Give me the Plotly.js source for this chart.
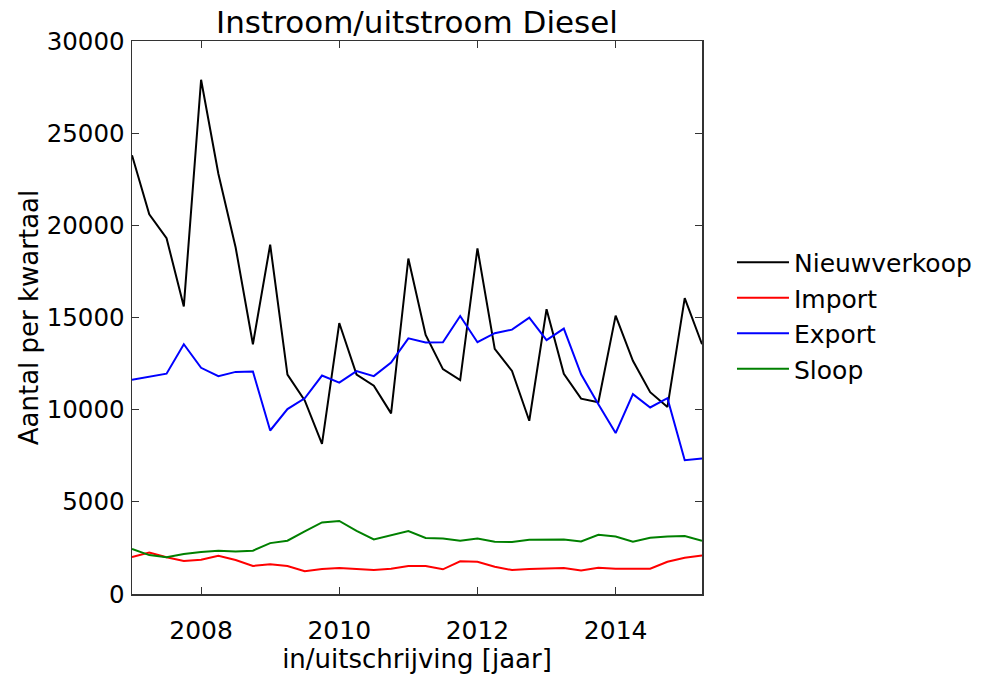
<!DOCTYPE html>
<html>
<head>
<meta charset="utf-8">
<script src="https://cdn.plot.ly/plotly-3.0.1.min.js"></script>
<style>html,body{margin:0;padding:0;background:#fff;}#chart{width:984px;height:675px;}</style>
</head>
<body>
<div id="chart"></div>
<script>
// Quarterly time axis (year fractions)
const quarters = [];
for (let i = 0; i < 34; i++) quarters.push(2007 + i * 0.25);

const nieuwverkoop = [23800, 20600, 19300, 15600, 27900, 22800, 18800, 13550, 18950, 11900,
  10500, 8150, 14700, 11900, 11300, 9800, 18200, 14050, 12200, 11600,
  18750, 13300, 12100, 9400, 15450, 11950, 10600, 10400, 15100, 12650,
  10950, 10150, 16050, 13550];
const importVals = [2000, 2250, 1990, 1790, 1860, 2080, 1840, 1520, 1620, 1520,
  1230, 1360, 1410, 1360, 1300, 1370, 1520, 1520, 1340, 1770,
  1750, 1480, 1300, 1360, 1390, 1410, 1280, 1420, 1370, 1370,
  1370, 1750, 1970, 2090];
const exportVals = [11620, 11800, 11950, 13550, 12270, 11820, 12050, 12070, 8870, 10030,
  10620, 11850, 11470, 12090, 11820, 12560, 13870, 13640, 13660, 15080,
  13660, 14150, 14340, 14990, 13770, 14400, 11920, 10300, 8730, 10840,
  10120, 10620, 7260, 7350];
const sloop = [2440, 2110, 1990, 2170, 2280, 2350, 2310, 2350, 2760, 2890,
  3400, 3880, 3960, 3430, 2960, 3200, 3410, 3040, 3010, 2890,
  3010, 2840, 2820, 2940, 2930, 2960, 2850, 3210, 3120, 2840,
  3050, 3120, 3140, 2890];

const seriesNames = ['Nieuwverkoop', 'Import', 'Export', 'Sloop'];
const seriesColors = ['#000000', '#ff0000', '#0000ff', '#008000'];
const seriesData = [nieuwverkoop, importVals, exportVals, sloop];

const xTicks = [2008, 2010, 2012, 2014];
const xTickText = ['2008', '2010', '2012', '2014'];
const yTicks = [0, 5000, 10000, 15000, 20000, 25000, 30000];
const yTickText = ['0', '5000', '10000', '15000', '20000', '25000', '30000'];

const font = 'DejaVu Sans, sans-serif';

const traces = seriesData.map((d, k) => ({
  x: quarters, y: d, type: 'scatter', mode: 'lines',
  name: seriesNames[k], legendgroup: 'g' + k,
  line: {color: seriesColors[k], width: 2}
}));

const layout = {
  width: 984, height: 675,
  margin: {l: 132, r: 282, t: 41, b: 81, pad: 0, autoexpand: false},
  paper_bgcolor: '#ffffff', plot_bgcolor: '#ffffff',
  font: {family: font, size: 25, color: '#000'},
  title: {text: 'Instroom/uitstroom Diesel', font: {family: font, size: 31, color: '#000'},
          x: 0.5, xref: 'paper', xanchor: 'center', y: 1 - 22/675, yref: 'container', yanchor: 'middle'},
  xaxis: {
    range: [2007, 2015.25], tickvals: xTicks, ticktext: xTickText,
    showgrid: false, zeroline: false,
    showline: true, linecolor: '#333', linewidth: 1.5, mirror: 'ticks',
    ticks: 'inside', ticklen: 7, tickwidth: 1, tickcolor: '#333',
    ticklabelstandoff: 13,
    tickfont: {family: font, size: 25, color: '#000'},
    title: {text: 'in/uitschrijving [jaar]', font: {family: font, size: 26, color: '#000'}, standoff: 6}
  },
  yaxis: {
    range: [0, 30000], tickvals: yTicks, ticktext: yTickText,
    showgrid: false, zeroline: false,
    showline: true, linecolor: '#333', linewidth: 1.5, mirror: 'ticks',
    ticks: 'inside', ticklen: 7, tickwidth: 1, tickcolor: '#333',
    ticklabelstandoff: 1,
    tickfont: {family: font, size: 24.5, color: '#000'},
    title: {text: 'Aantal per kwartaal', font: {family: font, size: 26, color: '#000'}, standoff: 0}
  },
  showlegend: true,
  legend: {
    x: 1.0526, xanchor: 'left', y: 0.5036, yanchor: 'middle',
    font: {family: font, size: 25, color: '#000'},
    bgcolor: 'rgba(0,0,0,0)', borderwidth: 0,
    traceorder: 'grouped', tracegroupgap: 0, itemwidth: 52
  }
};

Plotly.newPlot('chart', traces, layout, {displayModeBar: false, staticPlot: true});
</script>
</body>
</html>
